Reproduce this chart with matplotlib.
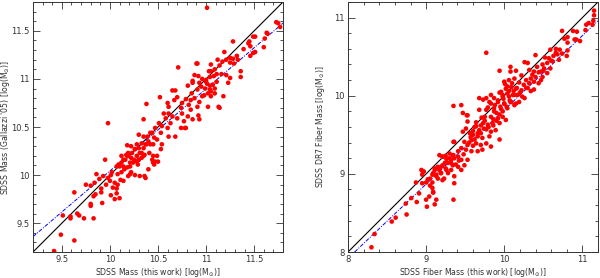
import numpy as np
import matplotlib.pyplot as plt
from matplotlib.ticker import MultipleLocator

# left panel: SDSS mass (this work) vs Gallazzi '05
left_pairs = np.array([
    (9.42, 9.21), (9.49, 9.38), (9.63, 9.32), (9.51, 9.58), (9.59, 9.57), (9.59, 9.55),
    (9.66, 9.60), (9.73, 9.55), (9.83, 9.55), (9.68, 9.58), (9.63, 9.82), (9.80, 9.70),
    (9.80, 9.68), (9.92, 9.71), (9.85, 9.80), (9.83, 9.78), (9.91, 9.82), (9.75, 9.90),
    (9.80, 9.89), (9.84, 9.92), (9.91, 9.86), (9.96, 9.90), (9.86, 10.01), (9.89, 9.96),
    (9.93, 9.99), (9.98, 9.97), (10.00, 9.94), (10.01, 10.00), (10.05, 9.92), (10.03, 9.87),
    (10.08, 9.90), (10.11, 9.95), (10.14, 9.94), (10.07, 9.86), (10.07, 9.81), (10.01, 9.79),
    (10.05, 9.75), (10.10, 9.76), (9.95, 10.16), (9.98, 10.54), (10.08, 10.01), (10.12, 10.03),
    (10.19, 9.99), (10.22, 10.03), (10.15, 10.06), (10.07, 10.09), (10.10, 10.09), (10.09, 10.11),
    (10.21, 10.09), (10.14, 10.16), (10.12, 10.20), (10.17, 10.21), (10.24, 10.13), (10.29, 10.11),
    (10.22, 10.18), (10.28, 10.14), (10.33, 10.18), (10.19, 10.23), (10.26, 10.27), (10.31, 10.23),
    (10.36, 10.21), (10.41, 10.23), (10.18, 10.31), (10.22, 10.30), (10.28, 10.32), (10.33, 10.33),
    (10.38, 10.32), (10.45, 10.32), (10.36, 9.99), (10.37, 9.97), (10.21, 10.01), (10.31, 9.99),
    (10.40, 10.06), (10.45, 10.13), (10.47, 10.14), (10.50, 10.14), (10.45, 10.20), (10.30, 10.42),
    (10.35, 10.40), (10.42, 10.44), (10.26, 10.00), (10.30, 10.16), (10.02, 10.03),
    (10.71, 11.12), (10.91, 11.16), (11.05, 11.15), (10.92, 11.03), (11.03, 11.08), (11.08, 11.03),
    (10.86, 10.98), (10.81, 10.93), (10.85, 10.85), (11.00, 10.99), (11.01, 10.95), (10.99, 10.90),
    (11.04, 10.89), (11.07, 10.94), (11.11, 10.97), (11.02, 10.85), (10.96, 10.82), (10.95, 10.92),
    (11.05, 10.82), (11.09, 10.85), (11.13, 10.71), (10.93, 10.76), (10.88, 10.80), (10.91, 10.71),
    (10.82, 10.73), (10.84, 10.68), (10.79, 10.79), (10.75, 10.75), (10.74, 10.70), (10.70, 10.81),
    (10.68, 10.88), (10.65, 10.88), (10.67, 10.78), (10.61, 10.71), (10.56, 10.64), (10.61, 10.64),
    (10.65, 10.61), (10.58, 10.59), (10.63, 10.54), (10.51, 10.54), (10.47, 10.49), (10.54, 10.51),
    (10.60, 10.49), (10.53, 10.44), (10.44, 10.44), (10.46, 10.39), (10.49, 10.37), (10.40, 10.35),
    (10.37, 10.32), (10.42, 10.32), (10.35, 10.28), (10.30, 10.28), (10.33, 10.23), (10.26, 10.27),
    (10.23, 10.23), (10.28, 10.20), (10.19, 10.20), (10.16, 10.16), (10.21, 10.13), (10.14, 10.09),
    (10.18, 10.08), (10.12, 10.13), (10.25, 10.16), (10.30, 10.16), (10.35, 10.20), (10.44, 10.16),
    (10.49, 10.20), (10.46, 10.11), (10.39, 10.40), (10.52, 10.81), (10.38, 10.74), (10.35, 10.58),
    (10.74, 10.49), (10.79, 10.49), (10.68, 10.40), (10.53, 10.27), (10.54, 10.32), (10.92, 10.62),
    (11.02, 10.71), (10.93, 10.58), (10.75, 10.64), (10.70, 10.59), (10.81, 10.61), (10.86, 10.58),
    (10.77, 10.56), (10.60, 10.75), (10.78, 10.49), (10.61, 10.40),
    (11.01, 11.74), (11.73, 11.59), (11.75, 11.58), (11.77, 11.54), (11.63, 11.48), (11.61, 11.42),
    (11.49, 11.44), (11.45, 11.39), (11.39, 11.31), (11.28, 11.39), (11.19, 11.28), (11.46, 11.34),
    (11.60, 11.33), (11.46, 11.24), (11.49, 11.27), (11.32, 11.24), (11.28, 11.21), (11.25, 11.22),
    (11.21, 11.20), (11.33, 11.20), (11.17, 11.18), (11.12, 11.20), (11.14, 11.14), (11.25, 11.17),
    (11.29, 11.16), (11.09, 11.10), (11.05, 11.08), (11.11, 11.05), (11.16, 11.05), (11.21, 11.04),
    (11.04, 11.02), (10.96, 11.00), (11.00, 10.97), (10.93, 10.96), (10.90, 11.16), (10.88, 11.04),
    (10.86, 10.96), (11.04, 10.93), (11.09, 10.90), (11.05, 10.87), (11.18, 10.82), (11.14, 10.70),
    (10.98, 10.83), (10.91, 10.89), (10.84, 10.78), (11.23, 10.96), (11.25, 11.01), (11.36, 11.02),
    (11.36, 11.08), (11.44, 11.37), (11.51, 11.44), (11.64, 11.47), (11.51, 11.28),
])

# right panel: SDSS fiber mass (this work) vs DR7 fiber mass
right_pairs = np.array([
    (8.30, 8.06), (8.34, 8.23), (8.56, 8.39), (8.61, 8.44), (8.75, 8.48), (8.74, 8.62),
    (8.81, 8.69), (8.88, 8.64), (8.87, 8.89), (8.91, 8.75), (8.95, 8.88), (8.97, 9.03),
    (9.00, 8.89), (9.02, 8.93), (9.08, 8.99), (9.08, 8.89), (9.08, 8.82), (9.09, 8.77),
    (9.13, 8.67), (9.04, 8.71), (9.00, 8.67), (9.11, 8.61), (9.01, 8.58), (9.13, 8.97),
    (9.21, 8.92), (9.23, 8.94), (9.19, 9.01), (9.28, 9.01), (9.15, 9.09), (9.11, 9.07),
    (9.17, 9.05), (9.25, 9.07), (9.34, 9.11), (9.21, 9.11), (9.28, 9.14), (9.32, 9.18),
    (9.36, 9.20), (9.21, 9.22), (9.25, 9.23), (9.30, 9.26), (9.34, 9.24), (9.35, 9.41),
    (9.36, 8.88), (9.35, 8.67), (9.05, 8.85), (9.09, 8.76), (8.95, 8.99),
    (9.35, 9.87), (9.53, 9.75), (9.77, 10.55), (9.94, 9.44), (9.73, 9.95),
    (10.08, 10.31), (10.01, 10.15), (10.04, 10.12), (10.10, 10.16), (10.12, 10.06), (9.94, 10.04),
    (9.98, 10.01), (10.06, 9.99), (10.13, 10.01), (9.83, 10.01), (9.77, 9.97), (9.81, 9.92),
    (9.92, 9.92), (10.00, 9.90), (10.09, 9.92), (10.13, 9.88), (10.04, 9.84), (9.96, 9.83),
    (9.87, 9.80), (9.79, 9.85), (9.68, 9.82), (9.75, 9.73), (9.83, 9.73), (9.92, 9.71),
    (9.98, 9.73), (10.02, 9.69), (9.94, 9.65), (9.85, 9.65), (9.79, 9.63), (9.73, 9.65),
    (9.64, 9.61), (9.68, 9.56), (9.77, 9.57), (9.83, 9.54), (9.89, 9.56), (9.81, 9.48),
    (9.72, 9.46), (9.66, 9.48), (9.60, 9.50), (9.58, 9.43), (9.64, 9.39), (9.53, 9.37),
    (9.49, 9.41), (9.70, 9.37), (9.77, 9.39), (9.51, 9.31), (9.58, 9.29), (9.45, 9.33),
    (9.41, 9.29), (9.36, 9.41), (9.47, 9.78), (9.52, 9.75), (9.45, 9.88), (9.53, 9.67),
    (9.51, 9.58), (9.47, 9.54), (9.68, 9.97), (9.77, 9.82), (9.83, 9.35), (9.72, 9.31),
    (9.66, 9.29), (9.35, 9.24), (9.41, 9.22), (9.30, 9.20), (9.26, 9.19), (9.32, 9.14),
    (9.24, 9.14), (9.19, 9.09), (9.15, 9.07), (9.11, 9.05), (9.09, 9.01), (9.13, 8.99),
    (9.19, 9.01), (9.26, 9.05), (9.32, 9.05), (9.41, 9.09), (9.49, 9.11), (9.45, 9.18),
    (9.53, 9.18), (9.21, 9.22), (9.17, 9.24), (8.94, 9.05), (8.96, 9.03), (9.05, 8.94),
    (9.15, 8.94), (9.45, 9.05), (9.36, 8.97), (9.60, 9.55), (9.62, 9.60), (9.70, 9.62),
    (9.75, 9.68), (9.86, 9.70), (9.90, 9.78), (9.95, 9.86), (9.57, 9.47), (9.66, 9.52),
    (9.62, 9.44), (9.70, 9.52), (9.74, 9.58), (9.80, 9.60), (9.86, 9.62), (9.90, 9.68),
    (9.94, 9.76), (9.98, 9.80), (10.03, 9.86), (10.07, 9.94), (9.55, 9.40), (9.60, 9.36),
    (9.48, 9.25), (9.42, 9.17), (9.38, 9.12), (9.56, 9.52), (9.64, 9.66), (9.71, 9.72),
    (9.88, 9.88), (9.99, 9.96), (10.06, 10.06), (10.16, 10.10), (10.20, 10.04), (10.28, 10.10),
    (11.15, 11.09), (11.14, 10.96), (11.05, 10.91), (10.93, 10.82), (10.90, 10.72), (10.97, 10.70),
    (10.74, 10.83), (10.81, 10.68), (10.77, 10.73), (10.59, 10.59), (10.66, 10.60), (10.71, 10.59),
    (10.74, 10.54), (10.80, 10.51), (10.81, 10.58), (10.68, 10.53), (10.63, 10.51), (10.57, 10.48),
    (10.62, 10.44), (10.70, 10.46), (10.55, 10.42), (10.49, 10.40), (10.40, 10.52), (10.30, 10.42),
    (10.26, 10.43), (10.42, 10.37), (10.51, 10.35), (10.59, 10.35), (10.47, 10.31), (10.38, 10.31),
    (10.32, 10.33), (10.55, 10.29), (10.40, 10.24), (10.49, 10.24), (10.34, 10.22), (10.28, 10.20),
    (10.22, 10.26), (10.15, 10.32), (10.13, 10.22), (10.19, 10.17), (10.25, 10.14), (10.32, 10.16),
    (10.38, 10.18), (10.44, 10.16), (10.30, 10.10), (10.22, 10.07), (10.15, 10.09), (10.09, 10.11),
    (10.06, 10.20), (10.02, 10.09), (10.04, 10.03), (10.11, 10.01), (10.17, 10.01), (10.23, 9.99),
    (10.34, 10.06), (10.38, 10.08), (9.96, 10.05), (9.98, 9.99), (9.92, 9.94), (9.87, 9.97),
    (9.83, 9.90), (10.00, 9.90), (10.08, 9.92), (9.87, 9.84), (10.15, 9.90), (10.26, 9.97),
    (10.08, 10.37), (9.94, 10.32), (10.00, 10.18), (10.19, 9.92), (10.44, 10.30), (10.52, 10.49),
    (10.47, 10.20), (11.08, 10.93), (11.13, 10.91), (11.15, 11.03), (11.04, 10.84), (10.92, 10.72),
    (10.88, 10.83), (10.81, 10.75), (10.66, 10.55), (10.60, 10.45), (10.50, 10.32), (10.36, 10.27),
])

# fitted relations (slope, anchor)
left_fit = (0.854, 9.36)     # y at x=9.2
right_fit = (0.95, 8.085)    # x at y=8

plt.rcParams['font.family'] = 'DejaVu Sans'
tick_fs = 6
label_fs = 5.6
ink = '#333333'

fig = plt.figure(figsize=(6, 2.78), dpi=100)
ax1 = fig.add_axes([33/600, 26/278, 250/600, 250/278])
ax2 = fig.add_axes([348/600, 26/278, 250/600, 250/278])


def style(ax, major, minor):
    ax.xaxis.set_major_locator(MultipleLocator(major))
    ax.yaxis.set_major_locator(MultipleLocator(major))
    ax.xaxis.set_minor_locator(MultipleLocator(minor))
    ax.yaxis.set_minor_locator(MultipleLocator(minor))
    ax.tick_params(which='both', direction='in', top=True, right=True,
                   width=0.6, colors=ink, labelsize=tick_fs, pad=2.5)
    ax.tick_params(which='major', length=5)
    ax.tick_params(which='minor', length=2.5)
    for s in ax.spines.values():
        s.set_linewidth(0.7)
        s.set_color(ink)


# left
lo, hi = 9.2, 11.8
ax1.plot([lo, hi], [lo, hi], color='black', lw=0.8)
xs = np.array([lo, hi])
ax1.plot(xs, left_fit[1] + left_fit[0] * (xs - lo), color='blue', lw=0.7,
         dashes=(4, 1.5, 1, 1.5))
ax1.scatter(left_pairs[:, 0], left_pairs[:, 1], s=11, color='red', edgecolors='none', zorder=3)
ax1.set_xlim(lo, hi)
ax1.set_ylim(lo, hi)
style(ax1, 0.5, 0.1)
ax1.set_xticks([9.5, 10, 10.5, 11, 11.5])
ax1.set_xticklabels(['9.5', '10', '10.5', '11', '11.5'])
ax1.set_yticks([9.5, 10, 10.5, 11, 11.5])
ax1.set_yticklabels(['9.5', '10', '10.5', '11', '11.5'])
ax1.set_xlabel(r"SDSS Mass (this work) [log(M$_{\odot}$)]", fontsize=label_fs, color=ink, labelpad=1)
ax1.set_ylabel(r"SDSS Mass (Gallazzi '05) [log(M$_{\odot}$)]", fontsize=label_fs, color=ink)
ax1.yaxis.set_label_coords(-0.085, 0.5)

# right
lo2, hi2 = 8.0, 11.2
ax2.plot([lo2, hi2], [lo2, hi2], color='black', lw=0.8)
xs2 = np.array([right_fit[1], hi2])
ax2.plot(xs2, lo2 + right_fit[0] * (xs2 - right_fit[1]), color='blue', lw=0.7,
         dashes=(4, 1.5, 1, 1.5))
ax2.scatter(right_pairs[:, 0], right_pairs[:, 1], s=11, color='red', edgecolors='none', zorder=3)
ax2.set_xlim(lo2, hi2)
ax2.set_ylim(lo2, hi2)
style(ax2, 1, 0.2)
ax2.set_xticks([8, 9, 10, 11])
ax2.set_yticks([8, 9, 10, 11])
ax2.set_xlabel(r"SDSS Fiber Mass (this work) [log(M$_{\odot}$)]", fontsize=label_fs, color=ink, labelpad=1)
ax2.set_ylabel(r"SDSS DR7 Fiber Mass [log(M$_{\odot}$)]", fontsize=label_fs, color=ink)
ax2.yaxis.set_label_coords(-0.085, 0.5)

fig.savefig('out.png', dpi=100)
